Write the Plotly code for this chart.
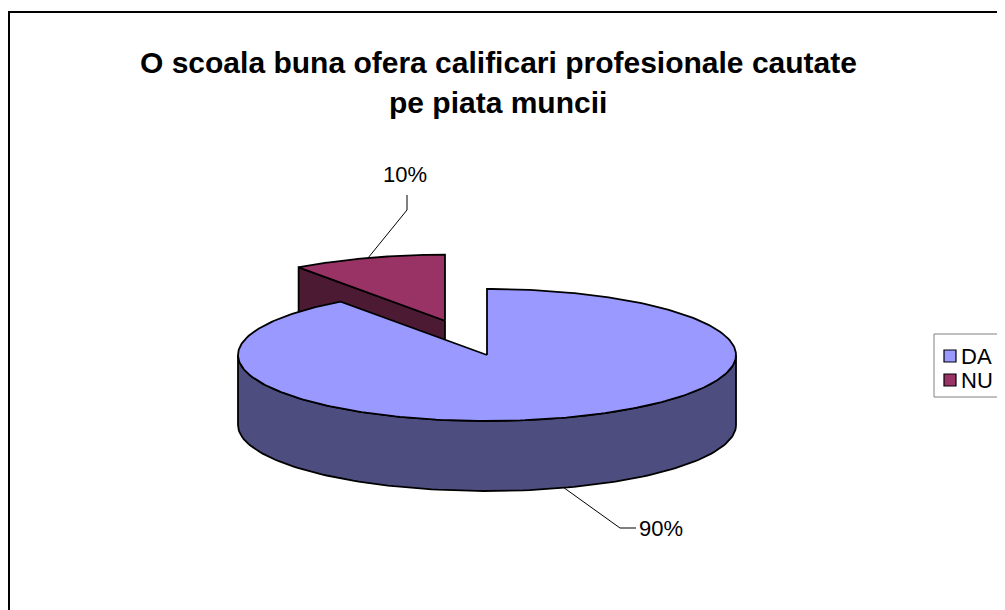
import numpy as np
import plotly.graph_objects as go

# ---- data ----
categories = ["DA", "NU"]
values = [90, 10]
pct_labels = ["90%", "10%"]
title_lines = ["O scoala buna ofera calificari profesionale cautate", "pe piata muncii"]

# ---- style / layout constants ----
top_colors = ["#9999FF", "#993366"]
side_colors = ["#4D4D80", "#4D1A33"]
explode = [0.0, 0.546]
W, H = 1005, 610
PAGE_OFF = 8           # default body margin of the html page
CX, CY = 487, 355      # centre of pie top face (screen px)
RA, RB = 249, 66       # ellipse semi-axes
DEPTH = 70             # thickness
FONT = "Liberation Sans, Arial, sans-serif"

total = sum(values)
bounds = np.concatenate([[0], np.cumsum(values)]) / total * 360.0


def pt(theta_deg, r=1.0, dz=0.0, off=(0.0, 0.0)):
    t = np.radians(theta_deg)
    return (CX + off[0] + RA * r * np.sin(t), CY + off[1] - RB * r * np.cos(t) + dz)


def arc(t0, t1, dz=0.0, off=(0.0, 0.0), n=120):
    ts = np.linspace(t0, t1, n)
    xs, ys = zip(*[pt(t, 1.0, dz, off) for t in ts])
    return list(xs), list(ys)


def offset(i):
    mid = (bounds[i] + bounds[i + 1]) / 2
    t = np.radians(mid)
    return (RA * explode[i] * np.sin(t), -RB * explode[i] * np.cos(t))


fig = go.Figure()


def poly(xs, ys, color, lw=1.8):
    fig.add_trace(go.Scatter(x=xs + [xs[0]], y=ys + [ys[0]], mode="lines", fill="toself",
                             fillcolor=color, line=dict(color="black", width=lw),
                             hoverinfo="skip", showlegend=False))


# --- NU (exploded, behind) side face along its first radial edge ---
i = 1
off = offset(i)
t0, t1 = bounds[i], bounds[i + 1]
c_top = pt(0, 0, 0, off)
c_bot = pt(0, 0, DEPTH, off)
r_top = pt(t0, 1, 0, off)
r_bot = pt(t0, 1, DEPTH, off)
poly([c_top[0], r_top[0], r_bot[0], c_bot[0]], [c_top[1], r_top[1], r_bot[1], c_bot[1]], side_colors[i])
ax, ay = arc(t0, t1, 0, off)
poly([c_top[0]] + ax, [c_top[1]] + ay, top_colors[i])

# --- DA ---
i = 0
off = offset(i)
t0, t1 = bounds[i], bounds[i + 1]
s0, s1 = max(t0, 90), min(t1, 270)
tx, ty = arc(s0, s1, 0, off)
bx, by = arc(s1, s0, DEPTH, off)
poly(tx + bx, ty + by, side_colors[i])
c_top = pt(0, 0, 0, off)
ax, ay = arc(t0, t1, 0, off, n=300)
poly([c_top[0]] + ax, [c_top[1]] + ay, top_colors[i])

# --- data labels with leader lines ---
mid = (bounds[1] + bounds[2]) / 2
p = pt(mid, 1, 0, offset(1))
lx, ly = 407, 210
fig.add_trace(go.Scatter(x=[p[0], lx, lx], y=[p[1], ly, ly - 15], mode="lines",
                         line=dict(color="black", width=1), hoverinfo="skip", showlegend=False))
fig.add_annotation(x=lx - 2, y=ly - 36, text=pct_labels[1], showarrow=False,
                   font=dict(family=FONT, size=22, color="black"), xref="x", yref="y")
mid = (bounds[0] + bounds[1]) / 2
p = pt(mid, 1, DEPTH, offset(0))
lx, ly = 620, 528
fig.add_trace(go.Scatter(x=[p[0], lx, lx + 16], y=[p[1], ly, ly], mode="lines",
                         line=dict(color="black", width=1), hoverinfo="skip", showlegend=False))
fig.add_annotation(x=lx + 17, y=ly, text=pct_labels[0], showarrow=False, xanchor="left",
                   font=dict(family=FONT, size=22, color="black"), xref="x", yref="y")

# --- legend (drawn manually, box runs off the right edge as in the original) ---
LEG_X0, LEG_Y0, LEG_Y1 = 934, 334, 397
fig.add_shape(type="rect", x0=LEG_X0, y0=LEG_Y0, x1=1040, y1=LEG_Y1, xref="x", yref="y",
              line=dict(color="#808080", width=1), fillcolor="white", layer="below")
leg_y = [356, 380]
fig.add_trace(go.Scatter(x=[LEG_X0 + 16] * len(categories), y=leg_y, mode="markers",
                         marker=dict(symbol="square", size=12, color=top_colors,
                                     line=dict(color="black", width=1.2)),
                         hoverinfo="skip", showlegend=False))
for cat, yy in zip(categories, leg_y):
    fig.add_annotation(x=LEG_X0 + 25, y=yy, text=cat, showarrow=False, xanchor="left",
                       font=dict(family=FONT, size=22, color="black"), xref="x", yref="y")

# --- title ---
fig.add_annotation(x=498, y=62, text="<b>" + title_lines[0] + "</b>", showarrow=False,
                   font=dict(family=FONT, size=30, color="black"), xref="x", yref="y")
fig.add_annotation(x=498, y=102, text="<b>" + title_lines[1] + "</b>", showarrow=False,
                   font=dict(family=FONT, size=30, color="black"), xref="x", yref="y")

# --- outer frame ---
fig.add_shape(type="rect", x0=PAGE_OFF + 1, y0=12, x1=1030, y1=640, xref="x", yref="y",
              line=dict(color="black", width=2), fillcolor="rgba(0,0,0,0)")

fig.update_layout(
    width=W, height=H, margin=dict(l=0, r=0, t=0, b=0),
    paper_bgcolor="white", plot_bgcolor="white",
    xaxis=dict(range=[PAGE_OFF, W + PAGE_OFF], visible=False, fixedrange=True),
    yaxis=dict(range=[H + PAGE_OFF, PAGE_OFF], visible=False, fixedrange=True),
    showlegend=False,
)

fig.write_html("out.html")
